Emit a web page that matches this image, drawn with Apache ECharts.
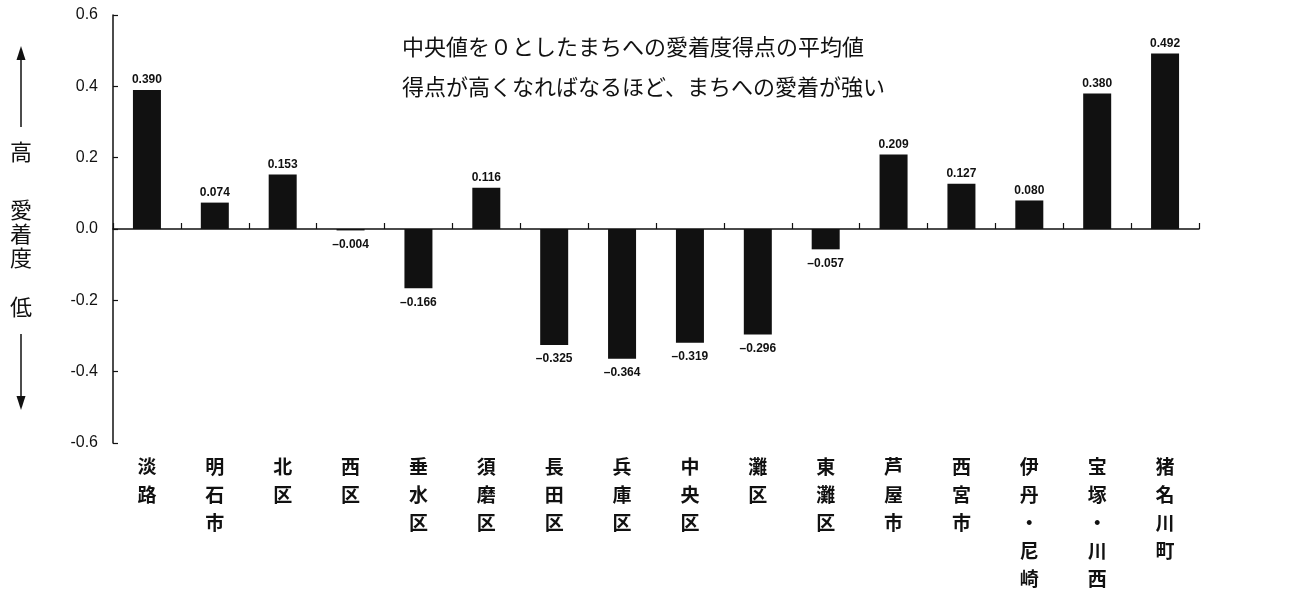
<!DOCTYPE html>
<html>
<head>
<meta charset="utf-8">
<script src="https://cdn.jsdelivr.net/npm/echarts@6/dist/echarts.min.js"></script>
<style>
  html, body { margin: 0; padding: 0; background: #fff; }
  #chart { width: 1297px; height: 616px; }
</style>
</head>
<body>
<div id="chart"></div>
<script>
// Areas (bottom labels, drawn vertically one character per line)
const categories = ['淡路', '明石市', '北区', '西区', '垂水区', '須磨区', '長田区', '兵庫区',
  '中央区', '灘区', '東灘区', '芦屋市', '西宮市', '伊丹・尼崎', '宝塚・川西', '猪名川町'];

// Mean attachment score per area (median = 0)
const scores = [0.390, 0.074, 0.153, -0.004, -0.166, 0.116, -0.325, -0.364,
  -0.319, -0.296, -0.057, 0.209, 0.127, 0.080, 0.380, 0.492];

// Value axis ticks
const yTicks = [-0.6, -0.4, -0.2, 0.0, 0.2, 0.4, 0.6];

const titleLines = ['中央値を０としたまちへの愛着度得点の平均値', '得点が高くなればなるほど、まちへの愛着が強い'];

const INK = '#111';
const latin = '"Liberation Sans", Arial, sans-serif';
const cjk = '"Noto Sans CJK JP", sans-serif';

function fmtValue(v) {
  return (v < 0 ? '\u2013' : '') + Math.abs(v).toFixed(3);
}

const chart = echarts.init(document.getElementById('chart'), null, { renderer: 'canvas' });

chart.setOption({
  animation: false,
  backgroundColor: '#fff',
  title: {
    text: titleLines.join('\n'),
    left: 397,
    top: 22,
    textStyle: { fontFamily: cjk, fontSize: 22, fontWeight: 'normal', color: INK, lineHeight: 40 }
  },
  grid: { left: 113, right: 98, top: 15, bottom: 173 },
  xAxis: [
    {
      // category labels along the bottom
      type: 'category',
      data: categories,
      position: 'bottom',
      axisLine: { show: false, onZero: false },
      axisTick: { show: false },
      axisLabel: {
        margin: 10,
        interval: 0,
        fontFamily: cjk,
        fontSize: 19,
        fontWeight: 'bold',
        color: INK,
        lineHeight: 28,
        verticalAlign: 'top',
        formatter: (v) => v.split('').join('\n')
      }
    },
    {
      // baseline at zero with dividing ticks
      type: 'category',
      data: categories,
      position: 'bottom',
      axisLine: { show: true, onZero: true, lineStyle: { color: INK, width: 1.5 } },
      axisTick: { show: true, inside: true, interval: 0, length: 6, lineStyle: { color: INK, width: 1.2 } },
      axisLabel: { show: false }
    }
  ],
  yAxis: {
    type: 'value',
    min: yTicks[0],
    max: yTicks[yTicks.length - 1],
    interval: 0.2,
    splitLine: { show: false },
    axisLine: { show: true, lineStyle: { color: INK, width: 1.5 } },
    axisTick: { show: true, inside: true, length: 5, lineStyle: { color: INK, width: 1.2 } },
    axisLabel: {
      margin: 15,
      fontFamily: latin,
      fontSize: 16,
      color: INK,
      padding: [4, 0, 0, 0],
      formatter: (v) => (Math.abs(v) < 1e-9 ? 0 : v).toFixed(1)
    }
  },
  graphic: [
    // up arrow
    { type: 'line', shape: { x1: 21, y1: 127, x2: 21, y2: 58 }, style: { stroke: INK, lineWidth: 1.5 } },
    { type: 'polygon', shape: { points: [[21, 46], [16.5, 60], [25.5, 60]] }, style: { fill: INK } },
    { type: 'text', left: 10, top: 141, style: { text: '高', font: '22px ' + cjk, fill: INK } },
    { type: 'text', left: 10, top: 198, style: { text: '愛\n着\n度', font: '22px ' + cjk, fill: INK, lineHeight: 24 } },
    { type: 'text', left: 10, top: 296, style: { text: '低', font: '22px ' + cjk, fill: INK } },
    // down arrow
    { type: 'line', shape: { x1: 21, y1: 334, x2: 21, y2: 398 }, style: { stroke: INK, lineWidth: 1.5 } },
    { type: 'polygon', shape: { points: [[21, 410], [16.5, 396], [25.5, 396]] }, style: { fill: INK } }
  ],
  series: [{
    type: 'bar',
    xAxisIndex: 0,
    data: scores.map((v) => ({
      value: v,
      label: {
        show: true,
        position: v < 0 ? 'bottom' : 'top',
        distance: v < 0 ? 8 : 4
      }
    })),
    barWidth: 28,
    itemStyle: { color: INK },
    label: {
      fontFamily: latin,
      fontSize: 12,
      fontWeight: 'bold',
      color: INK,
      formatter: (p) => fmtValue(p.value)
    }
  }]
});
</script>
</body>
</html>
